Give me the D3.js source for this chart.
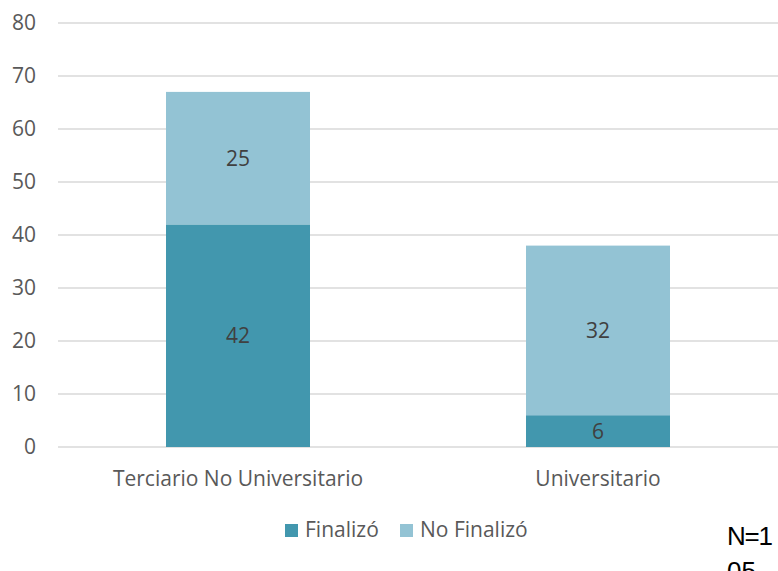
<!DOCTYPE html>
<html>
<head>
<meta charset="utf-8">
<script src="https://cdn.jsdelivr.net/npm/d3@7"></script>
<style>
  body { margin: 0; background: #fff; }
  svg { display: block; }
</style>
</head>
<body>
<div id="chart"></div>
<script>
const categories = ["Terciario No Universitario", "Universitario"];
const finalizo = [42, 6];
const noFinalizo = [25, 32];
const seriesNames = ["Finalizó", "No Finalizó"];
const seriesColors = ["#4297ae", "#93c3d4"];
const yTicks = [0, 10, 20, 30, 40, 50, 60, 70, 80];

const width = 778, height = 571;
const margin = { top: 23, right: 0, bottom: 124, left: 58 };

const svg = d3.select("#chart").append("svg")
  .attr("width", width)
  .attr("height", height);

const x = d3.scaleBand()
  .domain(categories)
  .range([margin.left, width - margin.right])
  .paddingInner(0.6)
  .paddingOuter(0.3);

const y = d3.scaleLinear()
  .domain([0, 80])
  .range([height - margin.bottom, margin.top]);

// gridlines
svg.append("g")
  .selectAll("line")
  .data(yTicks)
  .join("line")
  .attr("x1", margin.left)
  .attr("x2", width - margin.right)
  .attr("y1", d => y(d))
  .attr("y2", d => y(d))
  .attr("stroke", "#d9d9d9")
  .attr("stroke-width", 1.3);

// y axis labels
svg.append("g")
  .attr("transform", `translate(36,0)`)
  .call(d3.axisLeft(y).tickValues(yTicks).tickSize(0).tickPadding(0))
  .call(g => g.select(".domain").remove())
  .call(g => g.selectAll("text")
    .attr("fill", "#595959")
    .style("font-family", "'Open Sans', sans-serif")
    .style("font-size", "21px"));

// stacked bars
const rows = categories.map((c, i) => ({ cat: c, Finalizó: finalizo[i], "No Finalizó": noFinalizo[i] }));
const stack = d3.stack().keys(seriesNames)(rows);

const layers = svg.append("g")
  .selectAll("g")
  .data(stack)
  .join("g")
  .attr("fill", (d, i) => seriesColors[i]);

layers.selectAll("rect")
  .data(d => d)
  .join("rect")
  .attr("x", d => x(d.data.cat))
  .attr("width", x.bandwidth())
  .attr("y", d => y(d[1]))
  .attr("height", d => y(d[0]) - y(d[1]));

layers.selectAll("text")
  .data(d => d)
  .join("text")
  .attr("x", d => x(d.data.cat) + x.bandwidth() / 2)
  .attr("y", d => (y(d[0]) + y(d[1])) / 2)
  .attr("dy", "0.36em")
  .attr("text-anchor", "middle")
  .attr("fill", "#404040")
  .style("font-family", "'Open Sans', sans-serif")
  .style("font-size", "21px")
  .text(d => d[1] - d[0]);

// category axis
svg.append("g")
  .attr("transform", `translate(0,${y(0)})`)
  .call(d3.axisBottom(x).tickSize(0).tickPadding(0))
  .call(g => g.select(".domain").remove())
  .call(g => g.selectAll("text")
    .attr("dy", null)
    .attr("y", 39)
    .attr("fill", "#595959")
    .style("font-family", "'Open Sans', sans-serif")
    .style("font-size", "21px"));

// legend
const legendX = [285, 400];
const legend = svg.append("g")
  .selectAll("g")
  .data(seriesNames)
  .join("g")
  .attr("transform", (d, i) => `translate(${legendX[i]},524)`);

legend.append("rect")
  .attr("width", 13)
  .attr("height", 13)
  .attr("fill", (d, i) => seriesColors[i]);

legend.append("text")
  .attr("x", 20)
  .attr("y", 13)
  .attr("fill", "#595959")
  .style("font-family", "'Open Sans', sans-serif")
  .style("font-size", "21px")
  .text(d => d);

// sample size note (wraps and runs off the bottom, as in the original)
const note = svg.append("text")
  .attr("x", 727)
  .attr("y", 545)
  .attr("fill", "#000")
  .style("font-family", "'Liberation Sans', sans-serif")
  .style("font-size", "26px")
  .attr("textLength", null);
note.append("tspan").attr("x", 727).attr("textLength", 46).text("N=1");
note.append("tspan").attr("x", 727).attr("dy", 35).text("05");
</script>
</body>
</html>
